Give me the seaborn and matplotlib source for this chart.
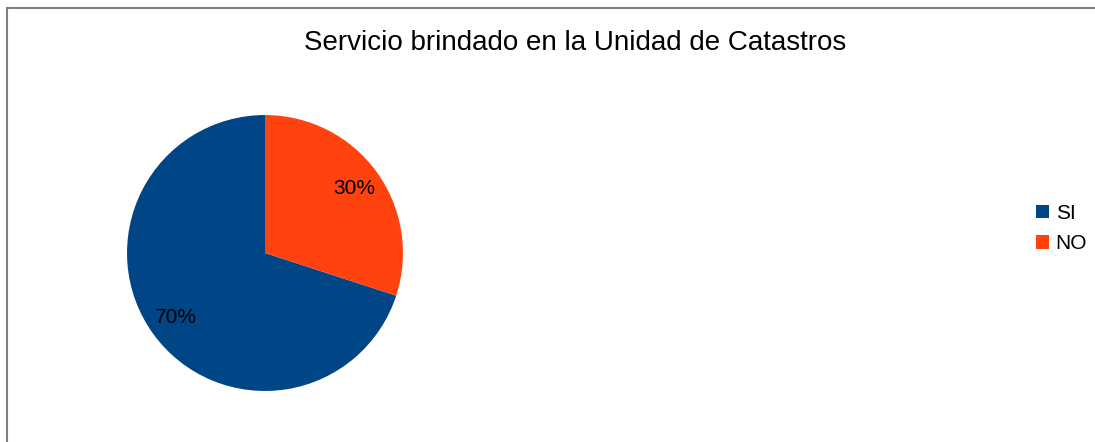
import matplotlib.pyplot as plt
import seaborn as sns
from matplotlib.lines import Line2D
from matplotlib.patches import Patch

# Data
labels = ["SI", "NO"]
values = [70, 30]
colors = sns.color_palette(["#004586", "#ff420e"])

sns.set_theme(style="white")
plt.rcParams['font.family'] = ['Liberation Sans', 'DejaVu Sans']
plt.rcParams['text.color'] = 'black'

fig = plt.figure(figsize=(10.95, 4.42), dpi=100)
ax = fig.add_axes([0.116, 0.1154, 0.252, 0.6244])

ax.pie(values, colors=colors, startangle=90, counterclock=True,
       autopct='%1.0f%%', pctdistance=0.8,
       textprops={'fontsize': 15, 'color': 'black'},
       wedgeprops={'linewidth': 0})
ax.set_xlim(-1, 1)
ax.set_ylim(-1, 1)
ax.set_aspect('equal')

fig.text(0.525, 0.903, "Servicio brindado en la Unidad de Catastros",
         ha='center', va='center', fontsize=20, color='black')

handles = [Patch(facecolor=c, edgecolor='none') for c in colors]
leg = fig.legend(handles, labels, loc='center left', bbox_to_anchor=(0.946, 0.483),
                 frameon=False, fontsize=15, handlelength=0.65, handleheight=0.65,
                 handletextpad=0.3, labelspacing=0.55, borderaxespad=0, borderpad=0)
for t in leg.get_texts():
    t.set_color('black')

# chart frame (top and left edges)
fig.add_artist(Line2D([0.0068, 1.0], [0.9830, 0.9830], color='#808080', lw=1.5))
fig.add_artist(Line2D([0.0068, 0.0068], [0.0, 0.9830], color='#808080', lw=1.5))

fig.savefig("out.png", dpi=100, facecolor='white')
